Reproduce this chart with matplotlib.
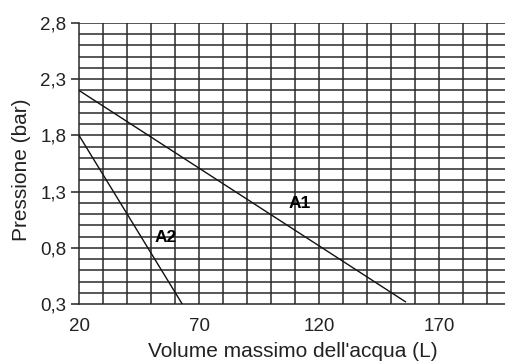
import numpy as np
import matplotlib.pyplot as plt

plt.rcParams['font.family'] = ['Liberation Sans', 'DejaVu Sans']

# curve end points
a1_volume = [20, 156]
a1_pressure = [2.2, 0.32]
a2_volume = [20, 63]
a2_pressure = [1.8, 0.3]

x_ticks = [20, 70, 120, 170]
y_ticks = [0.3, 0.8, 1.3, 1.8, 2.3, 2.8]
y_tick_labels = ['0,3', '0,8', '1,3', '1,8', '2,3', '2,8']

fig = plt.figure(figsize=(5.06, 3.61), dpi=100)
ax = fig.add_axes([79 / 506, 1 - 304 / 361, 1 - 79 / 506, (304 - 23) / 361])

ax.set_xlim(20, 197.9)
ax.set_ylim(0.3, 2.8)

# grid: every 10 L and every 0.1 bar
for xv in np.arange(30, 200, 10):
    ax.axvline(xv, color='#2a2a2a', lw=1.1, zorder=1)
for yv in np.arange(0.4, 2.85, 0.1):
    ax.axhline(yv, color='#2a2a2a', lw=1.1, zorder=1)

ax.plot(a1_volume, a1_pressure, color='#111111', lw=1.0, zorder=3)
ax.plot(a2_volume, a2_pressure, color='#111111', lw=1.0, zorder=3)

ax.text(112, 1.19, 'A1', fontsize=12.5, fontweight='bold', ha='center', va='center', zorder=4)
ax.text(56, 0.89, 'A2', fontsize=12.5, fontweight='bold', ha='center', va='center', zorder=4)

ax.set_xticks(x_ticks)
ax.set_yticks(y_ticks)
ax.set_yticklabels(y_tick_labels)
ax.tick_params(axis='x', length=0, pad=10, labelsize=13.5, colors='#222222')
ax.tick_params(axis='y', length=6, width=1.1, pad=3, labelsize=13.5, colors='#222222')

for side in ['top', 'right']:
    ax.spines[side].set_visible(False)
ax.spines['left'].set_color('#2a2a2a')
ax.spines['bottom'].set_color('#2a2a2a')
ax.spines['left'].set_linewidth(1.1)
ax.spines['bottom'].set_linewidth(1.1)

ax.set_xlabel("Volume massimo dell'acqua (L)", fontsize=15, color='#222222', labelpad=5)
ax.set_ylabel('Pressione (bar)', fontsize=15, color='#222222', labelpad=5)
ax.yaxis.set_label_coords(-0.112, 0.477)

fig.savefig('out.png', dpi=100)
